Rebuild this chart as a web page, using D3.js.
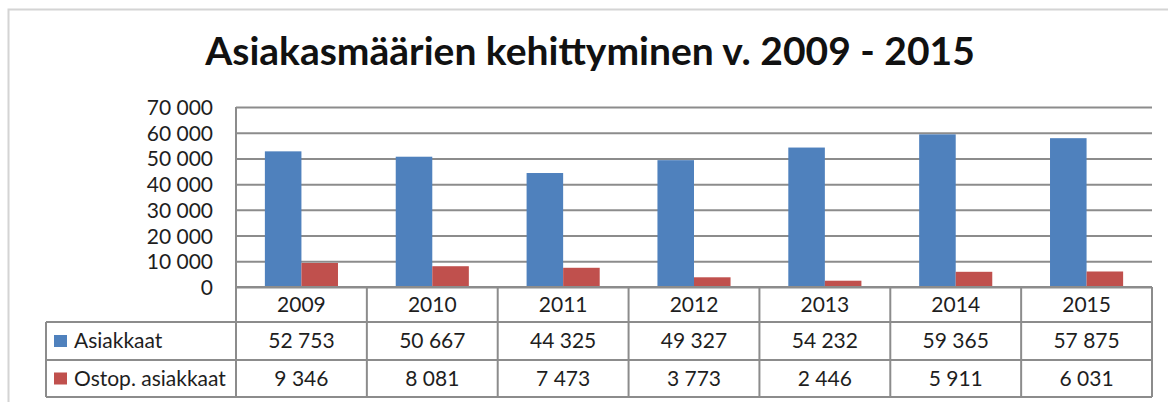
<!DOCTYPE html>
<html>
<head>
<meta charset="utf-8">
<script src="https://cdn.jsdelivr.net/npm/d3@7"></script>
<style>
  body { margin: 0; background: #fff; }
  text { font-family: Lato, "Open Sans", sans-serif; fill: #1e1e1e; }
</style>
</head>
<body>
<div id="chart"></div>
<script>
// data
const years = ["2009", "2010", "2011", "2012", "2013", "2014", "2015"];
const seriesNames = ["Asiakkaat", "Ostop. asiakkaat"];
const asiakkaat = [52753, 50667, 44325, 49327, 54232, 59365, 57875];
const ostop = [9346, 8081, 7473, 3773, 2446, 5911, 6031];
const yTicks = [0, 10000, 20000, 30000, 40000, 50000, 60000, 70000];
const colors = ["#4f81bd", "#c0504d"];

const W = 1168, H = 402;
const plot = { left: 236, right: 1152, top: 107, bottom: 287 };
const rowH = [35, 38, 37]; // table rows: years, series 1, series 2
const legendLeft = 46;

const svg = d3.select("#chart").append("svg")
  .attr("width", W).attr("height", H);

// outer chart frame
svg.append("rect")
  .attr("x", 8.5).attr("y", 9.5)
  .attr("width", W + 20).attr("height", H + 20)
  .attr("fill", "none").attr("stroke", "#d4d4d4").attr("stroke-width", 2);

// title
svg.append("text")
  .attr("x", 590).attr("y", 65)
  .attr("text-anchor", "middle")
  .attr("font-size", "39px")
  .attr("font-weight", "bold")
  .style("fill", "#111")
  .text("Asiakasmäärien kehittyminen v. 2009 - 2015");

const fmt = d3.formatLocale({ decimal: ",", thousands: " ", grouping: [3], currency: ["", ""] }).format(",d");

const x = d3.scaleBand().domain(years).range([plot.left, plot.right]);
const x1 = d3.scaleBand().domain(seriesNames).range([0, x.bandwidth()]).paddingOuter(0.79);
const y = d3.scaleLinear().domain([0, 70000]).range([plot.bottom, plot.top]);

// gridlines + y labels
const yAxis = svg.append("g")
  .attr("transform", `translate(${plot.left},0)`)
  .call(d3.axisLeft(y).tickValues(yTicks).tickFormat(fmt)
    .tickSizeInner(-(plot.right - plot.left)).tickSizeOuter(0).tickPadding(23));
yAxis.select(".domain").remove();
yAxis.selectAll("line").attr("stroke", "#8c8c8c").attr("stroke-width", 2);
yAxis.selectAll("text")
  .attr("font-size", "21px")
  .attr("dy", "0.36em")
  .style("font-family", "Lato, sans-serif")
  .style("fill", "#1e1e1e");

// bars
const series = [asiakkaat, ostop];
seriesNames.forEach((name, si) => {
  svg.append("g").selectAll("rect")
    .data(years)
    .join("rect")
    .attr("x", (d) => x(d) + x1(name))
    .attr("width", x1.bandwidth())
    .attr("y", (d, i) => y(series[si][i]))
    .attr("height", (d, i) => y(0) - y(series[si][i]))
    .attr("fill", colors[si]);
});

// data table
const t0 = plot.bottom;
const t1 = t0 + rowH[0];
const t2 = t1 + rowH[1];
const t3 = t2 + rowH[2];
const grid = svg.append("g").attr("stroke", "#8c8c8c").attr("stroke-width", 2);

grid.append("line").attr("x1", plot.left).attr("x2", plot.right).attr("y1", t0).attr("y2", t0);
[t1, t2, t3].forEach((ty) => {
  grid.append("line").attr("x1", legendLeft).attr("x2", plot.right).attr("y1", ty).attr("y2", ty);
});
// left axis line
grid.append("line").attr("x1", plot.left).attr("x2", plot.left).attr("y1", plot.top).attr("y2", t3);
grid.append("line").attr("x1", legendLeft).attr("x2", legendLeft).attr("y1", t1).attr("y2", t3);
grid.selectAll("vline")
  .data(years)
  .join("line")
  .attr("x1", (d) => x(d) + x.bandwidth())
  .attr("x2", (d) => x(d) + x.bandwidth())
  .attr("y1", t0).attr("y2", t3);

// year row
svg.append("g").selectAll("text")
  .data(years)
  .join("text")
  .attr("x", (d) => x(d) + x.bandwidth() / 2)
  .attr("y", (t0 + t1) / 2 + 7)
  .attr("text-anchor", "middle")
  .attr("font-size", "21px")
  .text((d) => d);

// series rows
const rowTops = [t1, t2];
const rowBots = [t2, t3];
seriesNames.forEach((name, si) => {
  const cy = (rowTops[si] + rowBots[si]) / 2;
  svg.append("g").selectAll("text")
    .data(years)
    .join("text")
    .attr("x", (d) => x(d) + x.bandwidth() / 2)
    .attr("y", cy + 7)
    .attr("text-anchor", "middle")
    .attr("font-size", "21px")
    .text((d, i) => fmt(series[si][i]));

  svg.append("rect")
    .attr("x", 54).attr("y", cy - 6)
    .attr("width", 13).attr("height", 12)
    .attr("fill", colors[si]);
  svg.append("text")
    .attr("x", 74).attr("y", cy + 7)
    .attr("font-size", "21px")
    .text(name);
});
</script>
</body>
</html>
